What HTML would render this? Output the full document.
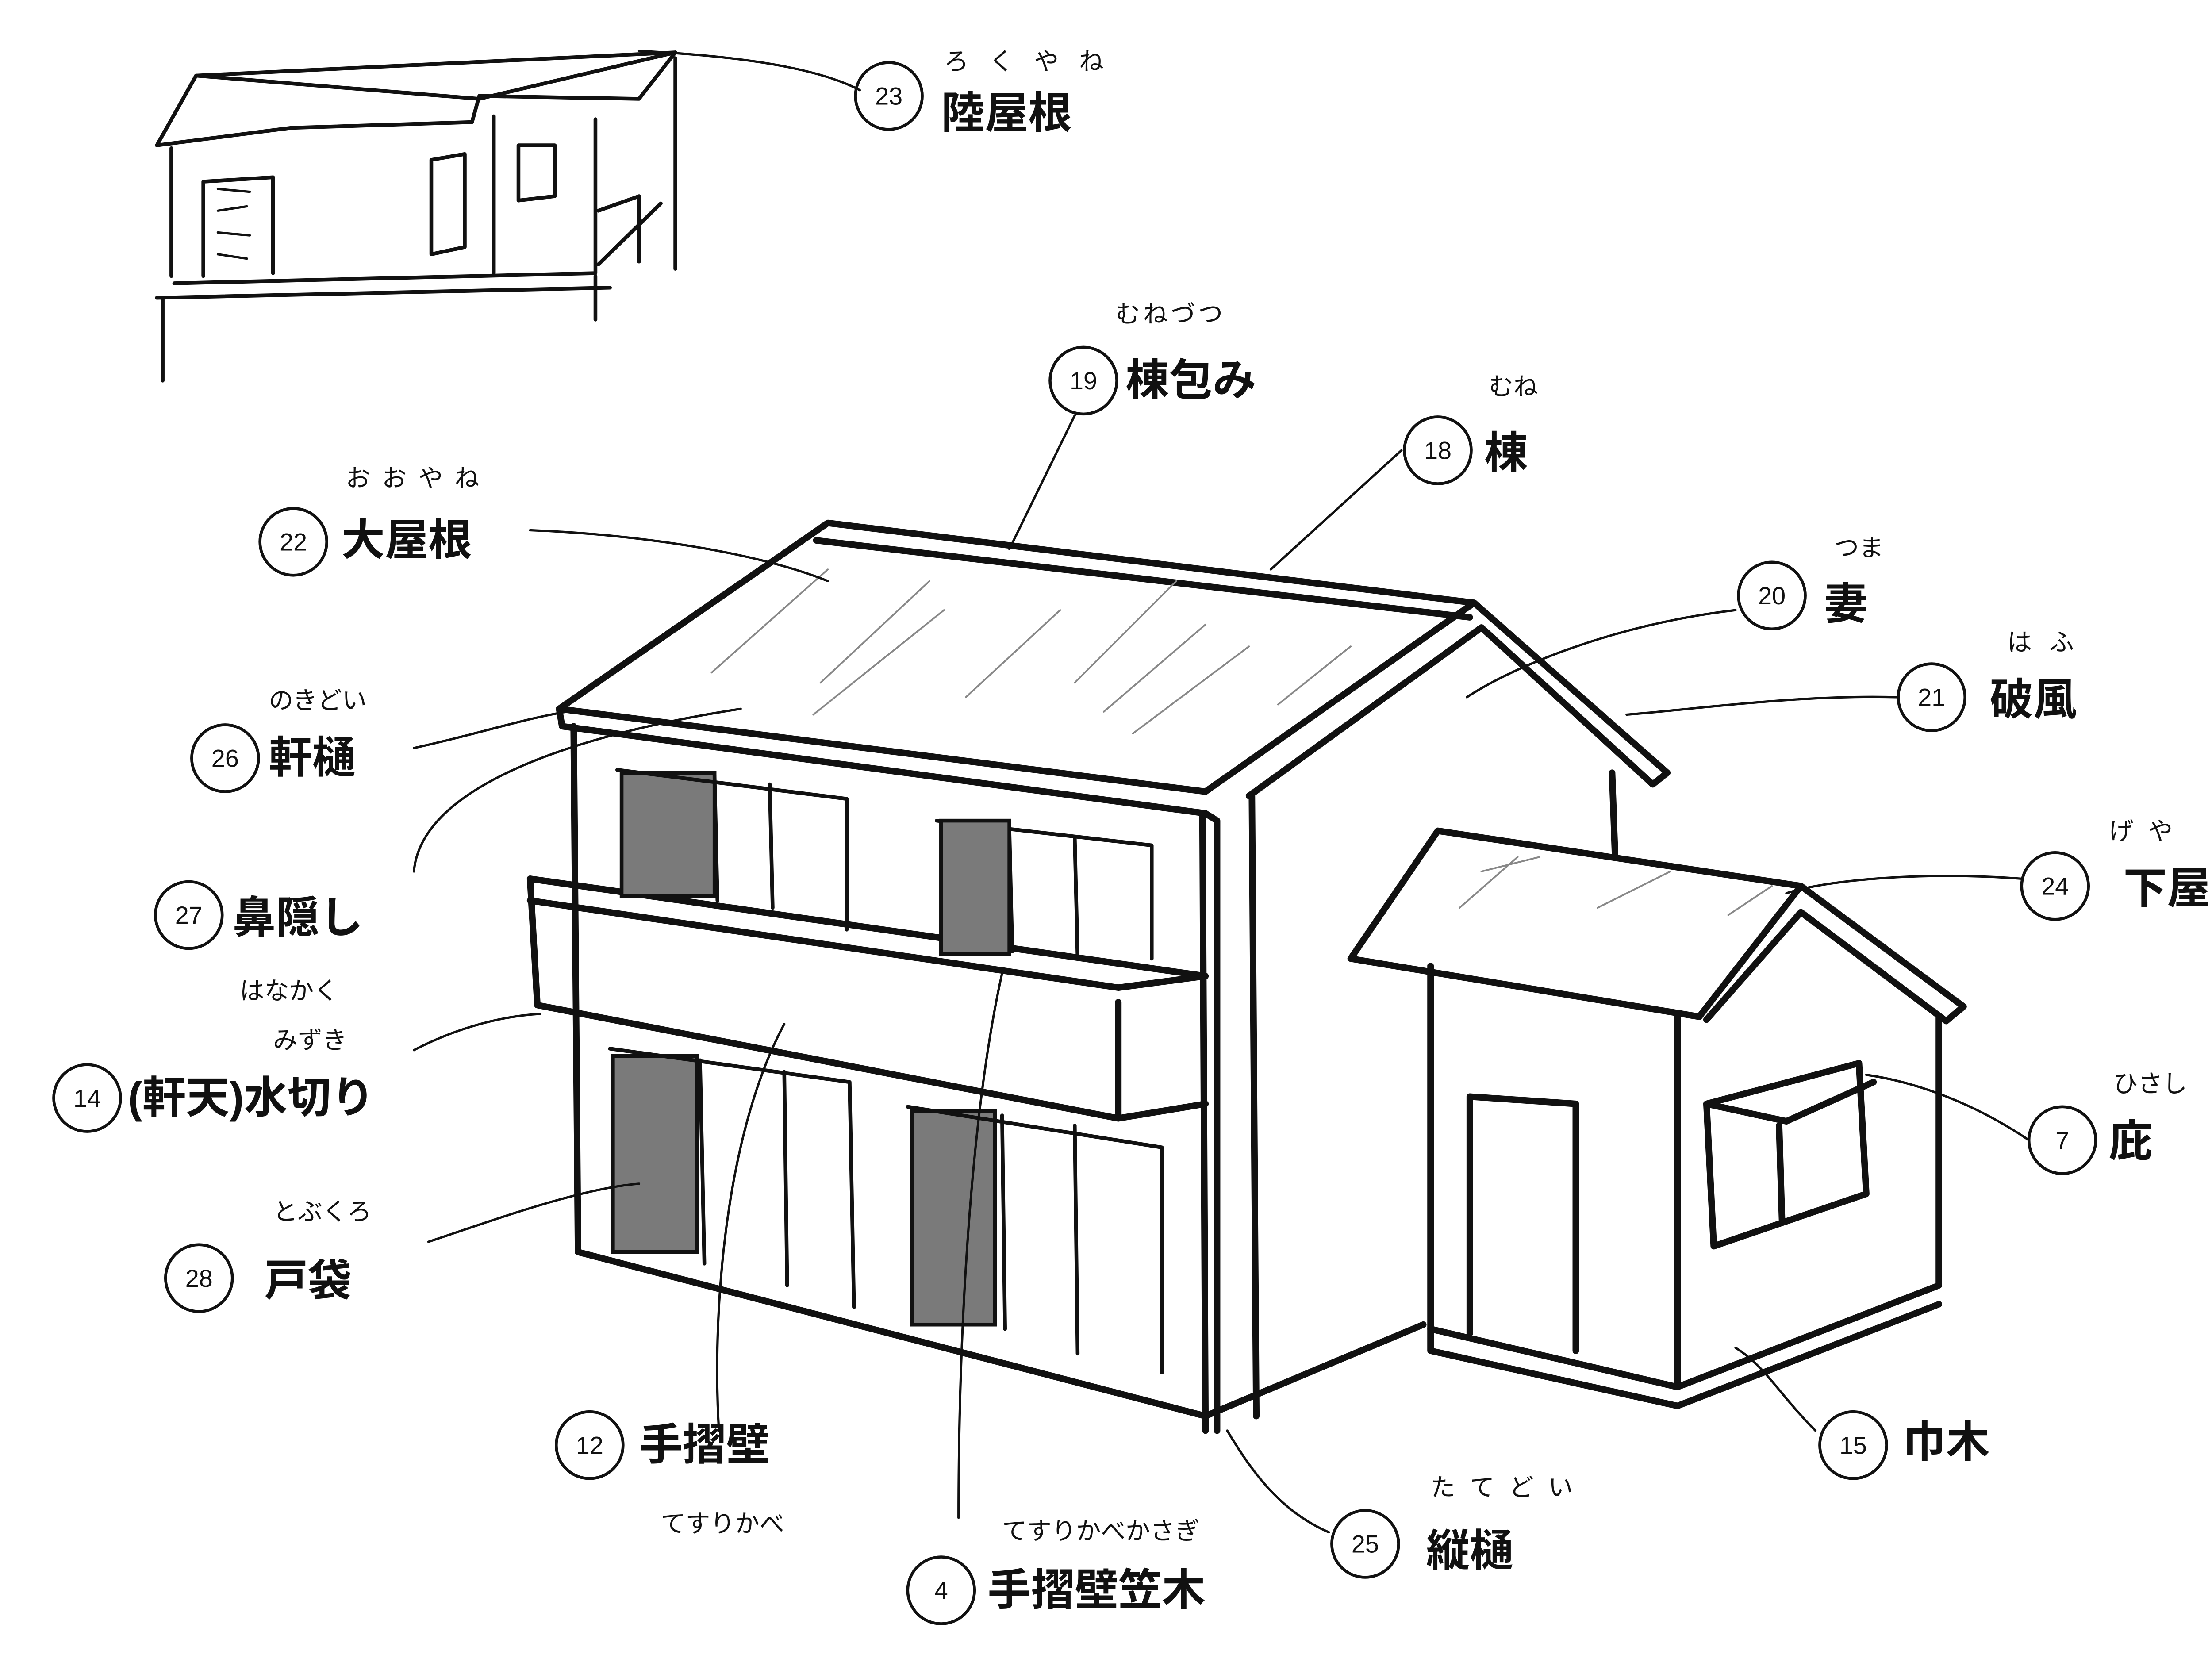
<!DOCTYPE html>
<html><head><meta charset="utf-8"><style>
html,body{margin:0;padding:0;background:#fff;}
svg{display:block;}
text{font-family:"Liberation Sans","Noto Sans CJK JP",sans-serif;fill:#111;}
.l{fill:none;stroke:#111;stroke-width:1.6;stroke-linecap:round;stroke-linejoin:round;}
.g{fill:none;stroke:#888;stroke-width:1.2;stroke-linecap:round;}
.h{fill:none;stroke:#111;stroke-width:4.5;stroke-linecap:round;stroke-linejoin:round;}
.m{fill:none;stroke:#111;stroke-width:2.6;stroke-linecap:round;stroke-linejoin:round;}
.c{fill:none;stroke:#111;stroke-width:2;}
.big{font-size:30px;font-weight:bold;}
.rb{font-size:17px;}
.num{font-size:17px;text-anchor:middle;}
.sh{fill:#7a7a7a;stroke:#111;stroke-width:2.6;}
</style></head><body>
<svg width="5095" height="3766" viewBox="0 0 1552 1147" xmlns="http://www.w3.org/2000/svg">
<rect width="1552" height="1147" fill="#fff"/>

<g class="m">
<path d="M108,100 L135,52 L465,36 L440,68 L330,66 L325,84 L200,88 L108,100 Z"/>
<path d="M135,52 L330,68 M330,68 L465,36"/>
<path d="M118,102 L118,190 M120,195 L410,188 M410,188 L410,82 M340,80 L340,188"/>
<path d="M108,205 L420,198 M112,205 L112,262"/>
<path d="M140,125 L188,122 L188,188 M140,125 L140,190"/>
<path d="M297,110 L320,106 L320,170 L297,175 Z M357,100 L382,100 L382,135 L357,138 Z"/>
<path d="M412,145 L440,135 L440,180 M412,182 L455,140 M465,40 L465,185 M410,220 L410,190"/>
</g>
<g class="l"><path d="M150,130 L172,132 M150,145 L170,142 M150,160 L172,162 M150,175 L170,178"/></g>

<g class="h">
<path d="M570,360 L1015,415 L830,545 L385,488 Z"/>
<path d="M562,372 L1012,425"/>
<path d="M1015,415 L1148,532 L1138,540 L1020,432 L860,548"/>
<path d="M1110,532 L1112,588"/>
<path d="M385,488 L387,500 L830,560"/>
<path d="M395,500 L398,862"/>
<path d="M398,862 L830,975 L980,912"/>
<path d="M862,548 L865,975"/>
<path d="M365,605 L830,672 M365,605 L370,692 L770,770 L830,760 M770,690 L770,770 M830,672 L770,680 L365,620"/>
<path d="M830,560 L838,565 L838,985 M828,560 L830,985"/>
</g>
<g class="g"><path d="M490,463 L570,392 M565,470 L640,400 M665,480 L730,420 M760,490 L830,430 M560,492 L650,420 M780,505 L860,445 M810,400 L740,470 M930,445 L880,485 M1020,600 L1060,590 M1005,625 L1045,590 M1100,625 L1150,600 M1190,630 L1220,610"/></g>
<rect class="sh" x="428" y="532" width="64" height="85"/>
<g class="m"><path d="M425,530 L583,550 L583,640 M492,534 L494,620 M530,540 L532,625"/>
<path d="M645,565 L793,582 L793,660 M695,572 L697,655 M740,577 L742,660"/></g>
<rect class="sh" x="648" y="565" width="47" height="92"/>
<rect class="sh" x="422" y="727" width="58" height="135"/>
<rect class="sh" x="628" y="765" width="57" height="147"/>
<g class="m"><path d="M420,722 L585,745 L588,900 M482,730 L485,870 M540,738 L542,885"/>
<path d="M625,762 L800,790 L800,945 M690,768 L692,915 M740,775 L742,932"/></g>

<g class="h">
<path d="M990,572 L1240,610 L1170,700 L930,660 Z"/>
<path d="M1240,610 L1352,693 L1340,703 L1240,628 L1175,702"/>
<path d="M985,665 L985,915 L1155,955 L1335,885 L1335,700"/>
<path d="M1155,700 L1155,955"/>
<path d="M985,915 L985,930 L1155,968 L1335,898"/>
<path d="M1012,755 L1085,760 L1085,930 M1012,755 L1012,918"/>
<path d="M1175,760 L1280,732 L1285,822 L1180,858 Z M1175,760 L1230,772 L1290,745"/>
<path d="M1225,775 L1227,840"/>
</g>

<g class="l">
<path d="M440,35 C500,38 560,45 592,62"/>
<path d="M740,286 L695,378"/>
<path d="M965,310 L875,392"/>
<path d="M365,365 C440,368 520,380 570,400"/>
<path d="M1195,420 C1110,430 1040,460 1010,480"/>
<path d="M1307,480 C1240,478 1170,488 1120,492"/>
<path d="M285,515 C330,505 360,495 390,490"/>
<path d="M285,600 C290,540 400,505 510,488"/>
<path d="M1392,605 C1330,600 1260,605 1230,615"/>
<path d="M285,723 C310,710 340,700 372,698"/>
<path d="M1397,785 C1360,760 1320,745 1285,740"/>
<path d="M295,855 C340,840 400,818 440,815"/>
<path d="M495,985 C490,900 500,780 540,705"/>
<path d="M1250,985 C1225,960 1215,940 1195,928"/>
<path d="M660,1045 C660,900 670,760 690,670"/>
<path d="M915,1055 C880,1040 860,1010 845,985"/>
</g>

<g>
<circle class="c" cx="612" cy="66" r="23"/><text class="num" x="612" y="72">23</text>
<text class="big" x="648" y="88">陸屋根</text><text class="rb" x="650" y="48" letter-spacing="14">ろくやね</text>
<circle class="c" cx="746" cy="262" r="23"/><text class="num" x="746" y="268">19</text>
<text class="big" x="775" y="272">棟包み</text><text class="rb" x="768" y="222" letter-spacing="2">むねづつ</text>
<circle class="c" cx="990" cy="310" r="23"/><text class="num" x="990" y="316">18</text>
<text class="big" x="1022" y="322">棟</text><text class="rb" x="1025" y="272">むね</text>
<circle class="c" cx="202" cy="373" r="23"/><text class="num" x="202" y="379">22</text>
<text class="big" x="235" y="382">大屋根</text><text class="rb" x="238" y="335" letter-spacing="8">おおやね</text>
<circle class="c" cx="1220" cy="410" r="23"/><text class="num" x="1220" y="416">20</text>
<text class="big" x="1256" y="426">妻</text><text class="rb" x="1263" y="383">つま</text>
<circle class="c" cx="1330" cy="480" r="23"/><text class="num" x="1330" y="486">21</text>
<text class="big" x="1370" y="492">破風</text><text class="rb" x="1382" y="448" letter-spacing="12">はふ</text>
<circle class="c" cx="155" cy="522" r="23"/><text class="num" x="155" y="528">26</text>
<text class="big" x="185" y="532">軒樋</text><text class="rb" x="185" y="488">のきどい</text>
<circle class="c" cx="130" cy="630" r="23"/><text class="num" x="130" y="636">27</text>
<text class="big" x="160" y="642">鼻隠し</text><text class="rb" x="165" y="688">はなかく</text>
<circle class="c" cx="1415" cy="610" r="23"/><text class="num" x="1415" y="616">24</text>
<text class="big" x="1462" y="622">下屋</text><text class="rb" x="1452" y="578" letter-spacing="10">げや</text>
<circle class="c" cx="60" cy="756" r="23"/><text class="num" x="60" y="762">14</text>
<text class="big" x="88" y="766">(軒天)水切り</text><text class="rb" x="188" y="722">みずき</text>
<circle class="c" cx="1420" cy="785" r="23"/><text class="num" x="1420" y="791">7</text>
<text class="big" x="1452" y="796">庇</text><text class="rb" x="1455" y="752">ひさし</text>
<circle class="c" cx="137" cy="880" r="23"/><text class="num" x="137" y="886">28</text>
<text class="big" x="182" y="892">戸袋</text><text class="rb" x="188" y="840">とぶくろ</text>
<circle class="c" cx="406" cy="995" r="23"/><text class="num" x="406" y="1001">12</text>
<text class="big" x="440" y="1005">手摺壁</text><text class="rb" x="455" y="1055">てすりかべ</text>
<circle class="c" cx="1276" cy="995" r="23"/><text class="num" x="1276" y="1001">15</text>
<text class="big" x="1310" y="1003">巾木</text>
<circle class="c" cx="648" cy="1095" r="23"/><text class="num" x="648" y="1101">4</text>
<text class="big" x="680" y="1105">手摺壁笠木</text><text class="rb" x="690" y="1060">てすりかべかさぎ</text>
<circle class="c" cx="940" cy="1063" r="23"/><text class="num" x="940" y="1069">25</text>
<text class="big" x="982" y="1078">縦樋</text><text class="rb" x="985" y="1030" letter-spacing="10">たてどい</text>
</g>
</svg>
</body></html>
